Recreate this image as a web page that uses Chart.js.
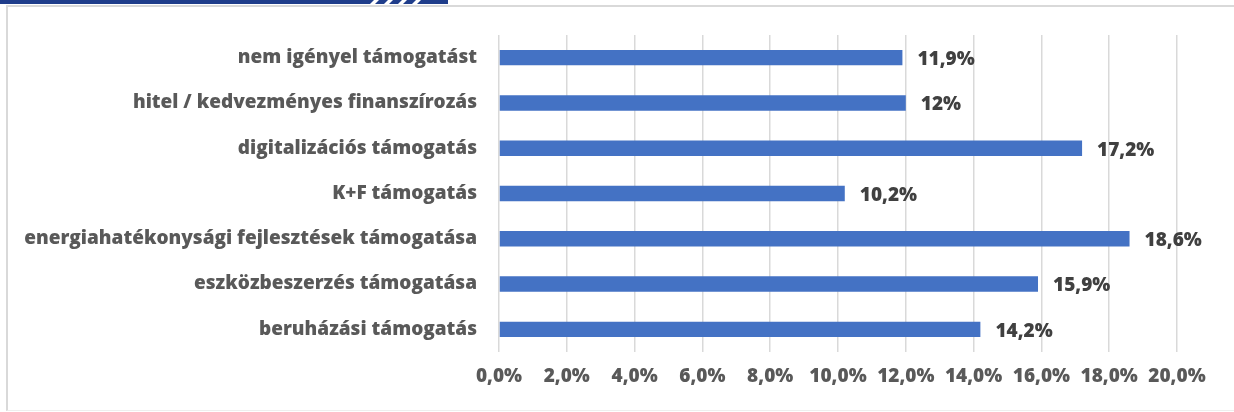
<!DOCTYPE html>
<html>
<head>
<meta charset="utf-8">
<script src="https://cdn.jsdelivr.net/npm/chart.js@4"></script>
<style>
  html, body { margin: 0; padding: 0; background: #fff; }
  #wrap { position: relative; width: 1234px; height: 412px; overflow: hidden; }
  #frame { position: absolute; left: 6px; top: 5px; width: 1240px; height: 403px;
           border-left: 2px solid #d9d9d9; border-top: 2px solid #d9d9d9; border-bottom: 1px solid #eeeeee; }
  #strip { position: absolute; left: 0; top: 0; width: 448px; height: 4px; background: #1f3d8b; }
  .slash { position: absolute; top: 0; width: 5px; height: 4px; background: #fff; transform: skewX(-45deg); }
  #c { position: absolute; left: 0; top: 0; }
</style>
</head>
<body>
<div id="wrap">
  <div id="frame"></div>
  <div id="strip">
    <div class="slash" style="left:372px"></div>
    <div class="slash" style="left:386px"></div>
    <div class="slash" style="left:400px"></div>
    <div class="slash" style="left:414px"></div>
  </div>
  <canvas id="c" width="1234" height="412"></canvas>
</div>
<script>
// Data
const CATEGORIES = [
  'nem igényel támogatást',
  'hitel / kedvezményes finanszírozás',
  'digitalizációs támogatás',
  'K+F támogatás',
  'energiahatékonysági fejlesztések támogatása',
  'eszközbeszerzés támogatása',
  'beruházási támogatás'
];
const VALUES = [11.9, 12, 17.2, 10.2, 18.6, 15.9, 14.2];
const X_TICKS = [0, 2, 4, 6, 8, 10, 12, 14, 16, 18, 20];

const FONT = '"Open Sans", sans-serif';
const SIZE = 19;
const fmtPct = (v) => String(v).replace('.', ',') + '%';

// Value labels at the end of each bar
const valueLabels = {
  id: 'valueLabels',
  afterDatasetsDraw(chart) {
    const c = chart.ctx;
    const meta = chart.getDatasetMeta(0);
    c.save();
    c.font = `800 ${SIZE}px ${FONT}`;
    c.fillStyle = '#404040';
    c.textBaseline = 'middle';
    c.textAlign = 'left';
    meta.data.forEach((bar, i) => {
      c.fillText(fmtPct(VALUES[i]), bar.x + 15, bar.y + 2);
    });
    c.restore();
  }
};

const ctx = document.getElementById('c');
new Chart(ctx, {
  type: 'bar',
  data: {
    labels: CATEGORIES,
    datasets: [{
      data: VALUES,
      backgroundColor: '#4472c4',
      borderWidth: 0,
      barPercentage: 0.34,
      categoryPercentage: 1
    }]
  },
  options: {
    indexAxis: 'y',
    responsive: false,
    animation: false,
    devicePixelRatio: 1,
    layout: { padding: { left: 10, right: 57, top: 35, bottom: 6 } },
    plugins: {
      legend: { display: false },
      tooltip: { enabled: false }
    },
    scales: {
      x: {
        min: 0,
        max: 20,
        afterBuildTicks: (axis) => { axis.ticks = X_TICKS.map(v => ({ value: v })); },
        afterFit: (axis) => { axis.height = 54; },
        grid: { color: '#d9d9d9', lineWidth: 1.5, drawTicks: false },
        border: { display: false },
        ticks: {
          padding: 13,
          color: '#595959',
          font: { family: FONT, size: SIZE, weight: 800 },
          callback: (v) => v.toFixed(1).replace('.', ',') + '%'
        }
      },
      y: {
        afterFit: (axis) => { axis.width = 489; },
        grid: { display: false, drawTicks: false },
        border: { display: false },
        ticks: {
          padding: 22,
          color: '#595959',
          font: { family: FONT, size: SIZE, weight: 800 }
        }
      }
    }
  },
  plugins: [valueLabels]
});
</script>
</body>
</html>
